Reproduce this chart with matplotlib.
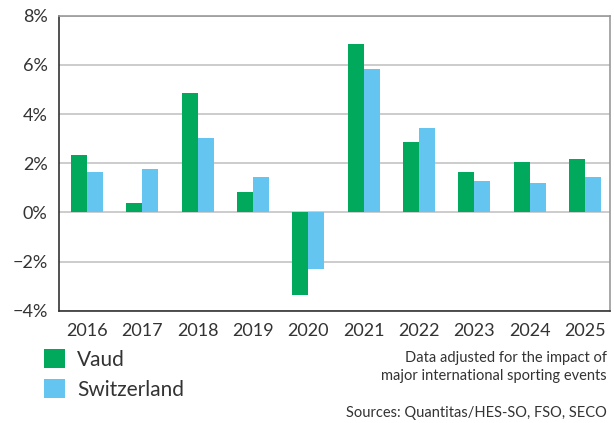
import numpy as np
import matplotlib
matplotlib.use("Agg")
import matplotlib.pyplot as plt
from matplotlib.ticker import FuncFormatter

plt.rcParams['font.family'] = ['Lato', 'DejaVu Sans']

years = [2016, 2017, 2018, 2019, 2020, 2021, 2022, 2023, 2024, 2025]
vaud = [2.33, 0.37, 4.86, 0.82, -3.35, 6.86, 2.86, 1.63, 2.04, 2.16]
switzerland = [1.63, 1.75, 3.02, 1.43, -2.29, 5.84, 3.43, 1.27, 1.18, 1.43]

green = '#00a95c'
blue = '#64c5f0'
text_col = '#333333'

fig = plt.figure(figsize=(6.14, 4.23), dpi=100)
ax = fig.add_axes([58.7 / 614, 1 - 310.7 / 423, (610 - 58.7) / 614, (310.7 - 15.7) / 423])

x = np.arange(len(years))
w = 0.29
b1 = ax.bar(x - w / 2, vaud, w, color=green, label='Vaud', zorder=3)
b2 = ax.bar(x + w / 2, switzerland, w, color=blue, label='Switzerland', zorder=3)

ax.set_xlim(-0.51, 9.45)
ax.set_ylim(-4, 8)
ax.set_yticks(range(-4, 9, 2))
ax.yaxis.set_major_formatter(FuncFormatter(lambda v, p: f"{int(v)}%".replace('-', '\u2212')))
ax.set_xticks(x)
ax.set_xticklabels([str(y) for y in years])
ax.tick_params(length=0, labelsize=13, colors=text_col)
ax.tick_params(axis='x', pad=9)
ax.tick_params(axis='y', pad=8)

ax.grid(axis='y', color='#c4c4c4', linewidth=1.2, zorder=0)
ax.spines['left'].set_color('#333333')
ax.spines['bottom'].set_color('#333333')
ax.spines['top'].set_color('#999999')
ax.spines['right'].set_color('#999999')
for s in ax.spines.values():
    s.set_linewidth(1.2)

fig.legend(handles=[b1, b2], loc='upper left', bbox_to_anchor=(25 / 614, 1 - 330 / 423),
           frameon=False, fontsize=15, handlelength=1.0, handleheight=1.05,
           handletextpad=0.6, labelspacing=0.45, labelcolor=text_col)

fig.text(607 / 614, 1 - 358 / 423, 'Data adjusted for the impact of', ha='right', va='center',
         fontsize=10.5, color=text_col)
fig.text(607 / 614, 1 - 376 / 423, 'major international sporting events', ha='right', va='center',
         fontsize=10.5, color=text_col)
fig.text(607 / 614, 1 - 413 / 423, 'Sources: Quantitas/HES-SO, FSO, SECO', ha='right', va='center',
         fontsize=10.5, color=text_col)

fig.savefig('out.png', dpi=100)
